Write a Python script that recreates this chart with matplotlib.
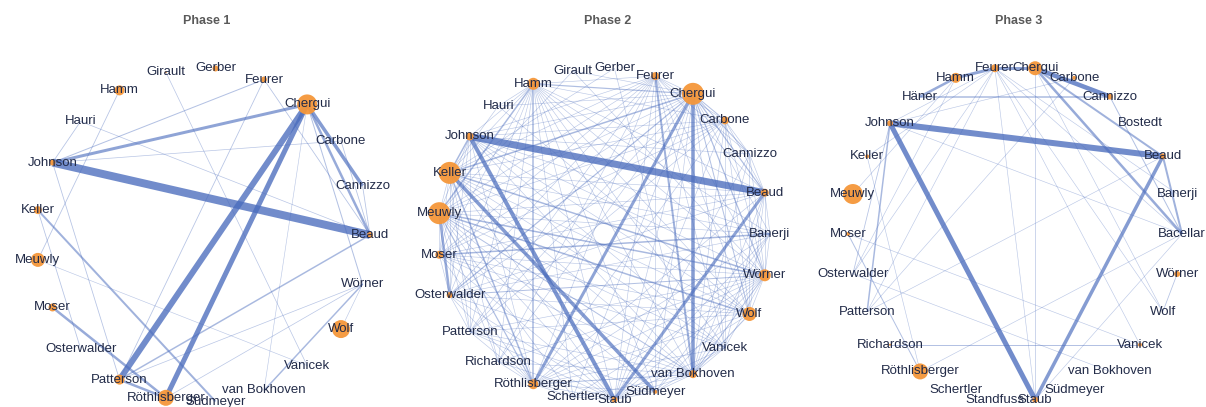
import numpy as np
import matplotlib.pyplot as plt

plt.rcParams['font.family'] = ['Liberation Sans', 'DejaVu Sans']

EDGE_COLOR = '#4a6cbd'
NODE_COLOR = '#f5973a'
LABEL_COLOR = '#222b48'
TITLE_COLOR = '#5a5a5a'

# ---- Phase 1 -------------------------------------------------------------
phase1_names = ["Beaud", "Cannizzo", "Carbone", "Chergui", "Feurer", "Gerber",
                "Girault", "Hamm", "Hauri", "Johnson", "Keller", "Meuwly",
                "Moser", "Osterwalder", "Patterson", "Röthlisberger",
                "Südmeyer", "van Bokhoven", "Vanicek", "Wolf", "Wörner"]
phase1_sizes = [3, 0, 0, 10, 3, 3, 1, 5, 0, 3, 4, 7, 4, 0, 5, 8, 0, 0, 0, 9, 0]
phase1_edges = [
    ("Johnson", "Beaud", 8), ("Chergui", "Patterson", 6),
    ("Chergui", "Röthlisberger", 5), ("Chergui", "Johnson", 3),
    ("Chergui", "Cannizzo", 3.5), ("Chergui", "Beaud", 2.5),
    ("Keller", "Südmeyer", 2), ("Moser", "Röthlisberger", 2.5),
    ("Patterson", "Röthlisberger", 2.5), ("Patterson", "Beaud", 1.5),
    ("Wörner", "van Bokhoven", 1.5), ("Chergui", "Wörner", 1),
    ("Chergui", "van Bokhoven", 0.6), ("Feurer", "Johnson", 1),
    ("Feurer", "Patterson", 0.8), ("Feurer", "Beaud", 0.8),
    ("Johnson", "Carbone", 0.7), ("Hauri", "Johnson", 0.8),
    ("Hauri", "Beaud", 0.7), ("Johnson", "Patterson", 0.8),
    ("Keller", "Osterwalder", 0.8), ("Hamm", "Meuwly", 0.8),
    ("Meuwly", "Vanicek", 0.6), ("Girault", "Vanicek", 0.7),
    ("Patterson", "Wörner", 0.7), ("Röthlisberger", "Wörner", 0.7),
    ("Wörner", "Wolf", 0.6), ("Cannizzo", "Beaud", 0.8),
    ("Carbone", "Beaud", 0.8),
]

# ---- Phase 2 -------------------------------------------------------------
phase2_names = ["Banerji", "Beaud", "Cannizzo", "Carbone", "Chergui", "Feurer",
                "Gerber", "Girault", "Hamm", "Hauri", "Johnson", "Keller",
                "Meuwly", "Moser", "Osterwalder", "Patterson", "Richardson",
                "Röthlisberger", "Schertler", "Staub", "Südmeyer",
                "van Bokhoven", "Vanicek", "Wolf", "Wörner"]
phase2_sizes = [0, 4, 0, 4, 11, 4, 0, 0, 6, 0, 4, 11, 11, 4, 3, 0, 0, 5, 0, 3,
                2, 4, 0, 7, 6]
phase2_edges = [
    ("Johnson", "Beaud", 7), ("Johnson", "Staub", 4),
    ("Keller", "Südmeyer", 3.5), ("Chergui", "Röthlisberger", 3),
    ("Chergui", "van Bokhoven", 3.5), ("Beaud", "Staub", 3),
    ("Feurer", "van Bokhoven", 2), ("Meuwly", "Osterwalder", 2.5),
    ("Hamm", "Röthlisberger", 1.5), ("Moser", "Banerji", 1.5),
    ("Keller", "Wörner", 1.5), ("Hamm", "Chergui", 1.2),
    ("Meuwly", "Wolf", 1.5), ("Johnson", "Keller", 1.5),
    ("Keller", "Chergui", 1.5), ("Meuwly", "Hamm", 1.5),
    ("Osterwalder", "Chergui", 1.2), ("Keller", "Röthlisberger", 1.5),
    ("Meuwly", "Röthlisberger", 1.2), ("Chergui", "Beaud", 1.2),
    ("Chergui", "Wörner", 1.2), ("Chergui", "Cannizzo", 1),
    ("Chergui", "Carbone", 1), ("Chergui", "Wolf", 1),
    ("van Bokhoven", "Wörner", 1), ("van Bokhoven", "Wolf", 1),
    ("van Bokhoven", "Röthlisberger", 1), ("van Bokhoven", "Meuwly", 1),
    ("Osterwalder", "Wörner", 1), ("Meuwly", "Wörner", 1.5),
]
# lighter collaborations, listed per author
phase2_thin = {
    "Hamm": ["Hauri", "Johnson", "Keller", "Moser", "Osterwalder", "Patterson",
             "Richardson", "Schertler", "Staub", "Südmeyer", "van Bokhoven",
             "Vanicek", "Wolf", "Wörner", "Banerji", "Beaud", "Carbone", "Feurer"],
    "Chergui": ["Girault", "Hauri", "Johnson", "Meuwly", "Moser", "Patterson",
                "Richardson", "Schertler", "Staub", "Südmeyer", "Vanicek",
                "Banerji", "Feurer"],
    "Keller": ["Hauri", "Meuwly", "Moser", "Osterwalder", "Patterson",
               "Richardson", "Staub", "van Bokhoven", "Vanicek", "Wolf",
               "Banerji", "Beaud", "Carbone", "Feurer", "Gerber"],
    "Meuwly": ["Johnson", "Moser", "Patterson", "Richardson", "Schertler",
               "Staub", "Südmeyer", "Vanicek", "Banerji", "Beaud", "Carbone",
               "Feurer", "Girault"],
    "Röthlisberger": ["Johnson", "Moser", "Osterwalder", "Patterson",
                      "Richardson", "Schertler", "Staub", "Südmeyer", "Vanicek",
                      "Wolf", "Wörner", "Banerji", "Beaud", "Carbone", "Feurer"],
    "van Bokhoven": ["Johnson", "Moser", "Osterwalder", "Patterson",
                     "Richardson", "Schertler", "Staub", "Südmeyer", "Vanicek",
                     "Banerji", "Beaud", "Cannizzo", "Carbone", "Gerber"],
    "Wörner": ["Johnson", "Moser", "Patterson", "Richardson", "Schertler",
               "Staub", "Südmeyer", "Vanicek", "Wolf", "Banerji", "Beaud",
               "Cannizzo", "Carbone", "Feurer", "Girault"],
    "Staub": ["Moser", "Osterwalder", "Patterson", "Richardson", "Schertler",
              "Südmeyer", "Vanicek", "Wolf", "Banerji", "Cannizzo", "Carbone",
              "Feurer"],
    "Wolf": ["Johnson", "Moser", "Osterwalder", "Patterson", "Beaud",
             "Cannizzo", "Carbone", "Feurer", "Hauri"],
    "Feurer": ["Johnson", "Moser", "Osterwalder", "Patterson", "Richardson",
               "Beaud", "Carbone", "Cannizzo", "Vanicek", "Südmeyer"],
    "Carbone": ["Johnson", "Moser", "Osterwalder", "Patterson", "Beaud",
                "Cannizzo", "Vanicek"],
    "Johnson": ["Osterwalder", "Moser", "Patterson", "Banerji", "Vanicek",
                "Cannizzo"],
    "Beaud": ["Moser", "Osterwalder", "Banerji", "Cannizzo", "Vanicek"],
    "Moser": ["Osterwalder", "Vanicek"],
    "Osterwalder": ["Banerji", "Patterson"],
    "Südmeyer": ["Patterson", "Vanicek", "Banerji"],
}

# ---- Phase 3 -------------------------------------------------------------
phase3_names = ["Bacellar", "Banerji", "Beaud", "Bostedt", "Cannizzo",
                "Carbone", "Chergui", "Feurer", "Hamm", "Häner", "Johnson",
                "Keller", "Meuwly", "Moser", "Osterwalder", "Patterson",
                "Richardson", "Röthlisberger", "Schertler", "Standfuss",
                "Staub", "Südmeyer", "van Bokhoven", "Vanicek", "Wolf", "Wörner"]
phase3_sizes = [0, 0, 3, 0, 3, 2, 7, 4, 5, 0, 3, 2, 10, 2, 0, 0, 1, 8, 0, 0,
                3, 0, 0, 2, 0, 3]
phase3_edges = [
    ("Johnson", "Beaud", 6), ("Johnson", "Staub", 5), ("Beaud", "Staub", 3.5),
    ("Chergui", "Cannizzo", 4.5), ("Feurer", "Chergui", 3),
    ("Hamm", "Feurer", 3), ("Häner", "Hamm", 2.5), ("Chergui", "Bacellar", 2.5),
    ("Chergui", "Beaud", 2), ("Beaud", "Bacellar", 2),
    ("Häner", "Cannizzo", 1.5), ("Johnson", "Patterson", 1.5),
    ("Cannizzo", "Bacellar", 1), ("Moser", "Röthlisberger", 1),
    ("Richardson", "Vanicek", 1), ("Chergui", "Staub", 0.7),
    ("Feurer", "Staub", 0.6), ("Feurer", "Wolf", 0.6),
    ("Feurer", "Bacellar", 0.6), ("Feurer", "Banerji", 0.6),
    ("Feurer", "Patterson", 0.6), ("Feurer", "Osterwalder", 0.6),
    ("Feurer", "Keller", 0.6), ("Feurer", "Johnson", 0.6),
    ("Feurer", "Vanicek", 0.6), ("Chergui", "Wolf", 0.6),
    ("Hamm", "Osterwalder", 0.6), ("Hamm", "Meuwly", 0.6),
    ("Johnson", "Bacellar", 0.6), ("Johnson", "Osterwalder", 0.8),
    ("Johnson", "Carbone", 0.6), ("Moser", "Vanicek", 0.6),
    ("Osterwalder", "van Bokhoven", 0.6), ("Röthlisberger", "Bacellar", 0.6),
    ("Staub", "Bacellar", 0.6), ("Patterson", "Beaud", 0.6),
    ("Keller", "Röthlisberger", 0.6), ("Wörner", "Wolf", 0.8),
    ("Carbone", "Patterson", 0.6),
]


def circle_layout(names, cx, cy, r):
    angles = np.arange(len(names)) * 2 * np.pi / len(names)
    return {nm: (cx + r * np.cos(a), cy - r * np.sin(a))
            for nm, a in zip(names, angles)}


def draw_network(ax, title, names, sizes, edges, cx, cy, r=167):
    pos = circle_layout(names, cx, cy, r)
    seen = set()
    for a, b, w in edges:
        key = frozenset((a, b))
        if key in seen:
            continue
        seen.add(key)
        (x0, y0), (x1, y1) = pos[a], pos[b]
        alpha = min(0.78, 0.32 + 0.1 * w)
        ax.plot([x0, x1], [y0, y1], color=EDGE_COLOR, lw=w * 0.72,
                alpha=alpha, solid_capstyle='butt', zorder=1)
    xs = [pos[n][0] for n in names]
    ys = [pos[n][1] for n in names]
    ax.scatter(xs, ys, s=[(1.44 * s) ** 2 for s in sizes],
               color=NODE_COLOR, alpha=0.95, linewidths=0, zorder=2)
    for n in names:
        ax.text(pos[n][0], pos[n][1], n, ha='center', va='center',
                fontsize=9.5, color=LABEL_COLOR, zorder=3)
    ax.text(cx + 4, 21, title, ha='center', va='center', fontsize=9,
            fontweight='bold', color=TITLE_COLOR)


fig = plt.figure(figsize=(12.06, 4.07), dpi=100)
ax = fig.add_axes([0, 0, 1, 1])
ax.set_xlim(0, 1206)
ax.set_ylim(407, 0)
ax.axis('off')

phase2_all = list(phase2_edges)
for src, targets in phase2_thin.items():
    phase2_all += [(src, t, 0.6) for t in targets]

draw_network(ax, "Phase 1", phase1_names, phase1_sizes, phase1_edges, 203, 235)
draw_network(ax, "Phase 2", phase2_names, phase2_sizes, phase2_all, 604, 234, 166)
draw_network(ax, "Phase 3", phase3_names, phase3_sizes, phase3_edges, 1015, 234)

fig.savefig("out.png", dpi=100, facecolor='white')
